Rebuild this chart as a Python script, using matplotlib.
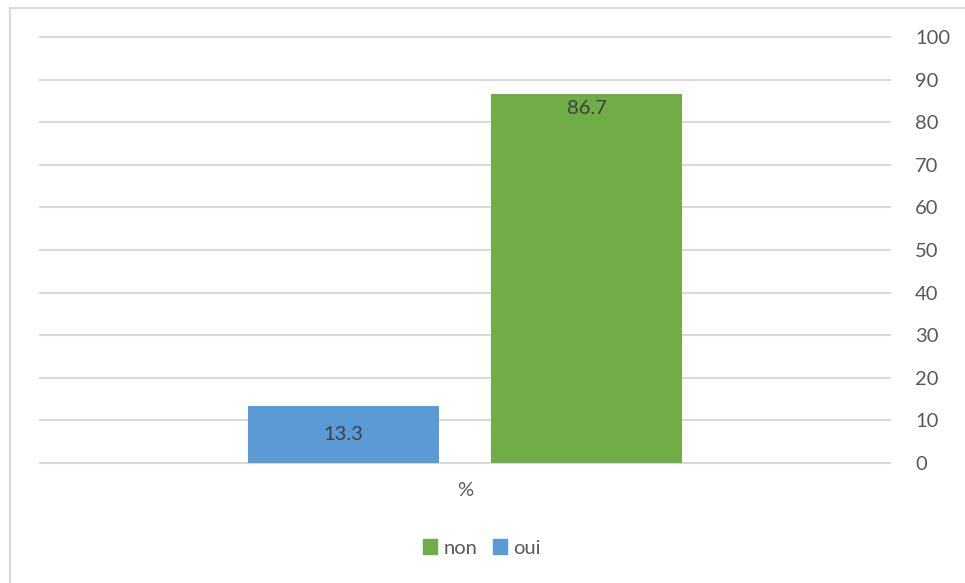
import matplotlib.pyplot as plt
import matplotlib.patches as mpatches

# data
categories = ['%']
series_names = ['oui', 'non']
series_values = [13.3, 86.7]
series_colors = ['#5B9BD5', '#70AD47']
yticks = list(range(0, 101, 10))

plt.rcParams['font.family'] = ['Lato', 'DejaVu Sans']

fig = plt.figure(figsize=(9.65, 5.83), dpi=100)
ax = fig.add_axes([40 / 965, 1 - 463 / 583, 850 / 965, 426 / 583])

# chart frame
fig.patches.append(mpatches.Rectangle((10 / 965, -0.05), 1.0, 1 - 8 / 583 + 0.05,
                                      transform=fig.transFigure, fill=False,
                                      ec='#D9D9D9', lw=1.5, zorder=0))

offsets = [-0.143, 0.143]
width = 0.225
for name, val, col, off in zip(series_names, series_values, series_colors, offsets):
    ax.bar(off, val, width=width, color=col, zorder=3, label=name)
    if val > 50:
        ax.text(off, val - 1.5, f'{val:.1f}', ha='center', va='top',
                fontsize=14.5, color='#404040', zorder=4)
    else:
        ax.text(off, val / 2, f'{val:.1f}', ha='center', va='center',
                fontsize=14.5, color='#404040', zorder=4)

ax.set_xlim(-0.5, 0.5)
ax.set_ylim(0, 100)
ax.set_yticks(yticks)
ax.yaxis.tick_right()
ax.tick_params(axis='y', length=0, pad=18, labelsize=14.5, labelcolor='#595959')
ax.set_xticks([0])
ax.set_xticklabels(categories)
ax.tick_params(axis='x', length=0, pad=14, labelsize=14.5, labelcolor='#595959')
ax.grid(axis='y', color='#D9D9D9', lw=1.5, zorder=0)
for line in ax.get_ygridlines():
    line.set_clip_on(False)
for s in ax.spines.values():
    s.set_visible(False)

handles = [mpatches.Patch(color=series_colors[1], label=series_names[1]),
           mpatches.Patch(color=series_colors[0], label=series_names[0])]
fig.legend(handles=handles, loc='center', bbox_to_anchor=(482 / 965, 1 - 548 / 583),
           ncol=2, frameon=False, fontsize=14.5, handlelength=0.7, handleheight=0.7,
           handletextpad=0.3, columnspacing=0.8, labelcolor='#595959')

fig.savefig('out.png', dpi=100)
